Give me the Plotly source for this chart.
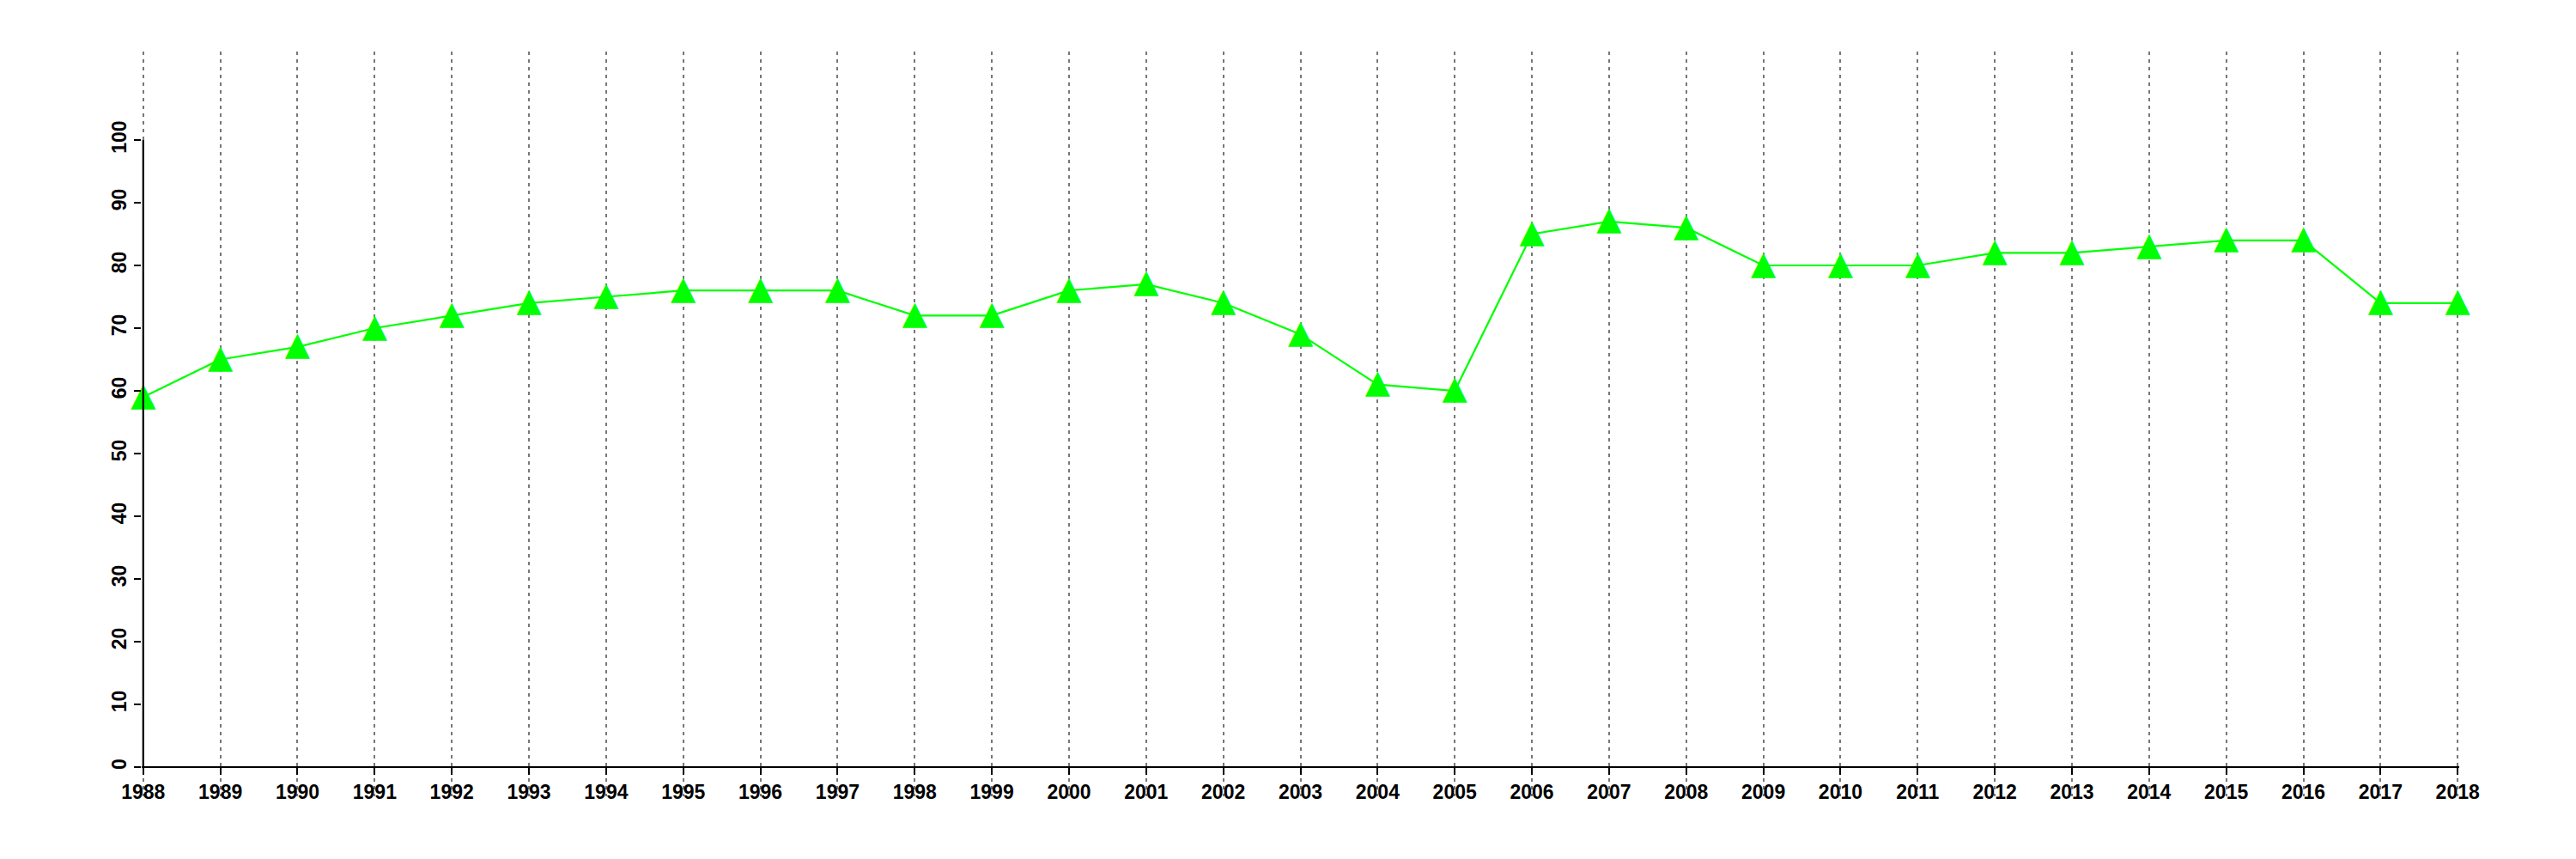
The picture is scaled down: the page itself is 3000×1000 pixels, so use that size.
import plotly.graph_objects as go

years = list(range(1988, 2019))
values = [59, 65, 67, 70, 72, 74, 75, 76, 76, 76, 72, 72, 76, 77, 74, 69,
          61, 60, 85, 87, 86, 80, 80, 80, 82, 82, 83, 84, 84, 74, 74]
y_ticks = list(range(0, 101, 10))
x_tick_labels = [str(y) for y in years]

GREEN = "#00ff00"
FONT = dict(family="Liberation Sans, Arial, Helvetica, sans-serif", size=23,
            color="black", weight="bold")

# axis ranges (slight padding so edge gridlines are drawn)
x_range = [years[0] - 0.02, years[-1] + 0.02]
y_range = [-4.66, 114.11]

fig = go.Figure()
fig.add_trace(go.Scatter(
    x=years, y=values,
    mode="lines+text",
    text=["\u25B2"] * len(years),
    textposition="middle center",
    textfont=dict(family="DejaVu Sans", size=38, color=GREEN),
    line=dict(color=GREEN, width=2.2),
    cliponaxis=False,
    hoverinfo="x+y",
))

# y axis line only between first and last tick
fig.add_shape(type="line", xref="x", yref="y",
              x0=years[0], x1=years[0], y0=y_ticks[0], y1=y_ticks[-1],
              line=dict(color="black", width=2.2), layer="above")

fig.update_layout(
    width=3000, height=1000,
    margin=dict(l=157, r=144, t=52, b=81),
    paper_bgcolor="white", plot_bgcolor="white",
    showlegend=False,
    font=FONT,
    xaxis=dict(
        range=x_range,
        tickmode="array", tickvals=years, ticktext=x_tick_labels,
        showgrid=True, gridcolor="#777777", gridwidth=2, griddash="4px,5px",
        zeroline=False,
        showline=True, linecolor="black", linewidth=2.2,
        ticks="outside", ticklen=8, tickwidth=2, tickcolor="black",
        tickfont=FONT, tickangle=0,
        anchor="free",
        position=(0 - y_range[0]) / (y_range[1] - y_range[0]),
        fixedrange=True,
    ),
    yaxis=dict(
        range=y_range,
        tickmode="array", tickvals=y_ticks, ticktext=[str(v) for v in y_ticks],
        showgrid=False, zeroline=False, showline=False,
        ticks="outside", ticklen=8, tickwidth=2, tickcolor="black",
        tickfont=FONT, tickangle=-90,
        fixedrange=True,
    ),
)

fig.write_html("out.html")
